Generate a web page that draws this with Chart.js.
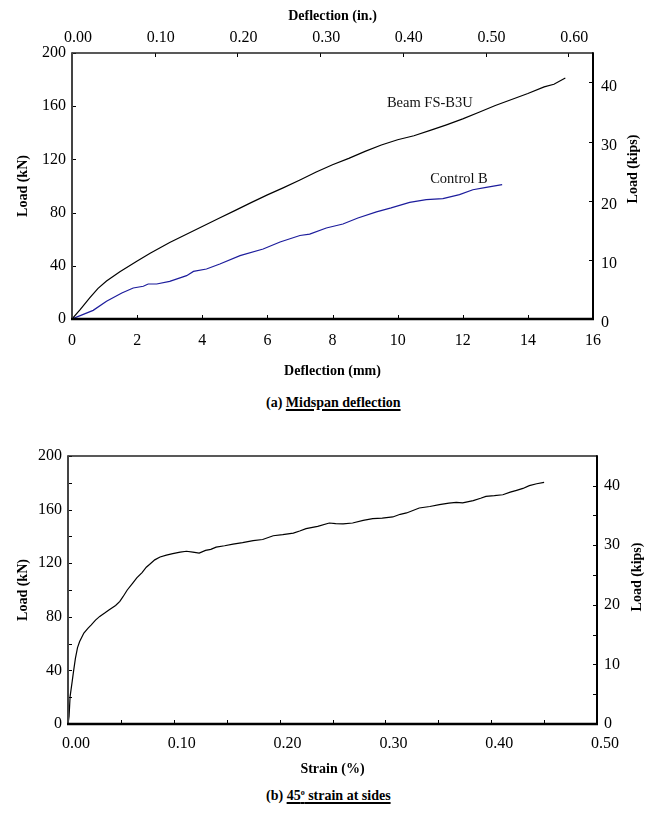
<!DOCTYPE html>
<html>
<head>
<meta charset="utf-8">
<script src="https://cdn.jsdelivr.net/npm/chart.js@4.4.0/dist/chart.umd.min.js"></script>
<style>
  body { margin: 0; background: #fff; }
  #wrap { position: relative; width: 655px; height: 814px; font-family: 'Liberation Serif', serif; }
  canvas { position: absolute; left: 0; }
  #c1 { top: 0; }
  #c2 { top: 420px; }
  .cap { position: absolute; left: 266px; font: bold 14px 'Liberation Serif', serif; line-height: 16px; white-space: nowrap; }
  .cap u { text-decoration-thickness: 1.5px; text-underline-offset: 2px; }
  .cap sup { font-size: 8px; vertical-align: 5px; line-height: 0; }
</style>
</head>
<body>
<div id="wrap">
  <canvas id="c1" width="655" height="384"></canvas>
  <canvas id="c2" width="655" height="362"></canvas>
  <div class="cap" style="top:395px">(a) <u>Midspan deflection</u></div>
  <div class="cap" style="top:788px">(b) <u>45<sup>o</sup> strain at sides</u></div>
</div>
<script>
// (a) load vs midspan deflection, mm / kN
const beamDefl = [0, 0.25, 0.55, 0.8, 1.06, 1.47, 1.99, 2.4, 3.0, 3.5, 4.0, 4.5, 5.0, 5.5, 6.0, 6.5, 7.0,
  7.5, 8.0, 8.5, 9.0, 9.5, 10.0, 10.5, 11.0, 11.5, 12.0, 12.5, 13.0, 13.5, 14.0, 14.5, 14.8, 15.15];
const beamLoad = [0, 7, 16, 23, 28.5, 35.5, 43.5, 49.5, 57.5, 63.5, 69.5, 75.5, 81.5, 87.5, 93.3, 98.8, 104.5,
  110.5, 116, 120.8, 126, 130.8, 134.8, 137.8, 141.8, 146, 150.5, 155.5, 160.5, 165, 169.5, 174.5, 176.5, 181.2];

const ctrlDefl = [0, 0.65, 1.06, 1.53, 1.88, 2.19, 2.34, 2.6, 3.0, 3.52, 3.73, 4.13, 4.54, 5.16, 5.87,
  6.39, 7.0, 7.3, 7.81, 8.32, 8.78, 9.35, 9.8, 10.37, 10.88, 11.39, 11.9, 12.31, 12.72, 13.21];
const ctrlLoad = [0, 6.5, 13.3, 19.5, 23.3, 24.6, 26.3, 26.3, 28.3, 32.6, 35.8, 37.6, 41.4, 47.6, 52.6,
  57.9, 62.8, 63.8, 68.4, 71.4, 75.9, 80.5, 83.5, 87.7, 89.7, 90.5, 93.5, 97.2, 99, 101];

// (b) load vs 45 deg strain, % / kN
const strainVals = [0, 0.001, 0.002, 0.004, 0.005, 0.007, 0.009, 0.011, 0.015, 0.019, 0.022, 0.026, 0.030,
  0.035, 0.039, 0.045, 0.049, 0.052, 0.056, 0.061, 0.065, 0.070, 0.074, 0.077, 0.082, 0.087, 0.093, 0.099,
  0.106, 0.112, 0.118, 0.124, 0.130, 0.135, 0.140, 0.148, 0.156, 0.165, 0.175, 0.184, 0.194, 0.203, 0.213,
  0.219, 0.225, 0.236, 0.247, 0.253, 0.26, 0.269, 0.279, 0.288, 0.297, 0.307, 0.314, 0.32, 0.332, 0.342,
  0.351, 0.36, 0.367, 0.373, 0.383, 0.39, 0.395, 0.403, 0.411, 0.418, 0.424, 0.43, 0.436, 0.443, 0.45];
const strainLoad = [0, 5.7, 20.6, 32, 38, 49, 57, 61.5, 67.9, 71.5, 74, 77.5, 80.3,
  83, 85.3, 88.5, 91.5, 95, 100, 105, 109, 113, 117, 119, 122.5, 124.6, 126, 127.1,
  128.2, 128.9, 128.2, 127.6, 129.6, 130.3, 132, 133, 134.3, 135.3, 136.8, 137.7, 140.5, 141.3, 142.5,
  144, 145.8, 147.5, 150, 149.5, 149.3, 150, 152, 153.2, 153.7, 154.5, 156.5, 157.5, 161.2, 162.3,
  163.7, 164.8, 165.4, 165, 166.7, 168.5, 169.9, 170.4, 171.1, 173, 174.4, 175.8, 177.9, 179.3, 180.3];

const curveLabels = [
  { text: 'Beam FS-B3U', x: 9.67, y: 162.6 },
  { text: 'Control B', x: 11.0, y: 105.3 }
];

const KN_PER_KIP = 4.448;
const MM_PER_IN = 25.4;

const pts = (xs, ys) => xs.map((x, i) => ({ x, y: ys[i] }));
const SERIF = "'Liberation Serif', serif";
const tickFont = { family: SERIF, size: 16 };
const titleFont = { family: SERIF, size: 14, weight: 'bold' };
const noGrid = { display: false, drawTicks: false };
const noBorder = { display: false };

// frame, inward tick marks, right-hand title and curve labels
const frame = {
  id: 'frame',
  afterDraw(chart, args, opts) {
    const { ctx, chartArea: a } = chart;
    ctx.save();
    ctx.strokeStyle = '#000';
    ctx.lineWidth = 1;
    const L = 4;
    Object.values(chart.scales).forEach(s => {
      const pos = s.options.position;
      s.ticks.forEach(t => {
        const p = Math.round(s.getPixelForValue(t.value)) + 0.5;
        ctx.beginPath();
        if (pos === 'bottom') { ctx.moveTo(p, a.bottom); ctx.lineTo(p, a.bottom - L); }
        if (pos === 'top') { ctx.moveTo(p, a.top); ctx.lineTo(p, a.top + L); }
        if (pos === 'left') { ctx.moveTo(a.left, p); ctx.lineTo(a.left + L, p); }
        if (pos === 'right') { ctx.moveTo(a.right, p); ctx.lineTo(a.right - L, p); }
        ctx.stroke();
      });
    });
    const side = (w, c, x1, y1, x2, y2) => {
      ctx.lineWidth = w; ctx.strokeStyle = c;
      ctx.beginPath(); ctx.moveTo(x1, y1); ctx.lineTo(x2, y2); ctx.stroke();
    };
    side(1.5, '#222', a.left, a.top, a.right, a.top);
    side(2, '#000', a.right, a.top - 0.75, a.right, a.bottom);
    side(2, '#444', a.left, a.top - 0.75, a.left, a.bottom);
    side(2.5, '#000', a.left - 1, a.bottom, a.right + 1, a.bottom);

    if (opts.rightTitle) {
      ctx.save();
      ctx.translate(a.right + opts.rightDx, (a.top + a.bottom) / 2 + opts.rightDy);
      ctx.rotate(-Math.PI / 2);
      ctx.font = `bold 14px ${SERIF}`;
      ctx.fillStyle = '#000';
      ctx.textAlign = 'center';
      ctx.textBaseline = 'middle';
      ctx.fillText(opts.rightTitle, 0, 0);
      ctx.restore();
    }
    (opts.labels || []).forEach(l => {
      ctx.font = `14.5px ${SERIF}`;
      ctx.fillStyle = '#111';
      ctx.textAlign = 'left';
      ctx.textBaseline = 'middle';
      ctx.fillText(l.text, chart.scales.x.getPixelForValue(l.x), chart.scales.y.getPixelForValue(l.y));
    });
    ctx.restore();
  }
};

const base = {
  responsive: false,
  animation: false,
  events: [],
  elements: { point: { radius: 0 }, line: { borderWidth: 1.2, tension: 0 } },
  plugins: { legend: { display: false }, tooltip: { enabled: false } }
};

new Chart(document.getElementById('c1'), {
  type: 'line',
  data: {
    datasets: [
      { data: pts(beamDefl, beamLoad), borderColor: '#000' },
      { data: pts(ctrlDefl, ctrlLoad), borderColor: '#1c1c9c' }
    ]
  },
  options: {
    ...base,
    layout: { padding: 0 },
    plugins: { ...base.plugins, frame: { rightTitle: 'Load (kips)', rightDx: 40, rightDy: -17, labels: curveLabels } },
    scales: {
      x: {
        type: 'linear', position: 'bottom', min: 0, max: 16,
        grid: noGrid, border: noBorder,
        ticks: { stepSize: 2, font: tickFont, color: '#000', padding: 12, autoSkip: false, maxRotation: 0 },
        title: { display: true, text: 'Deflection (mm)', font: titleFont, color: '#000', padding: { top: 0, bottom: 4 } },
        afterFit: s => { s.height = 65; }
      },
      xin: {
        type: 'linear', position: 'top', min: 0, max: 16 / MM_PER_IN,
        grid: noGrid, border: noBorder,
        ticks: { stepSize: 0.1, includeBounds: false, font: tickFont, color: '#000', padding: 6, labelOffset: 6,
          autoSkip: false, maxRotation: 0, callback: v => v.toFixed(2) },
        title: { display: true, text: 'Deflection (in.)', font: titleFont, color: '#000', padding: { top: 8, bottom: 0 } },
        afterFit: s => { s.height = 53; }
      },
      y: {
        position: 'left', min: 0, max: 200,
        grid: noGrid, border: noBorder,
        ticks: { stepSize: 40, font: tickFont, color: '#000', padding: 6 },
        title: { display: true, text: 'Load (kN)', font: titleFont, color: '#000', padding: { top: 15, bottom: 0 } },
        afterFit: s => { s.width = 72; }
      },
      yk: {
        position: 'right', min: 0, max: 200 / KN_PER_KIP,
        grid: noGrid, border: noBorder,
        ticks: { stepSize: 10, includeBounds: false, font: tickFont, color: '#000', padding: 8, labelOffset: 4 },
        afterFit: s => { s.width = 62; }
      }
    }
  },
  plugins: [frame]
});

new Chart(document.getElementById('c2'), {
  type: 'line',
  data: {
    datasets: [{ data: pts(strainVals, strainLoad), borderColor: '#000' }]
  },
  options: {
    ...base,
    layout: { padding: { top: 36 } },
    plugins: { ...base.plugins, frame: { rightTitle: 'Load (kips)', rightDx: 40, rightDy: -13 } },
    scales: {
      x: {
        type: 'linear', position: 'bottom', min: 0, max: 0.5,
        grid: noGrid, border: noBorder,
        ticks: { stepSize: 0.05, font: tickFont, color: '#000', padding: 10, labelOffset: 8, autoSkip: false, maxRotation: 0,
          callback: v => (Math.round(v * 100) % 10 === 0 ? v.toFixed(2) : '') },
        title: { display: true, text: 'Strain (%)', font: titleFont, color: '#000', padding: { top: 0, bottom: 4 } },
        afterFit: s => { s.height = 58; }
      },
      y: {
        position: 'left', min: 0, max: 200,
        grid: noGrid, border: noBorder,
        ticks: { stepSize: 20, font: tickFont, color: '#000', padding: 6,
          callback: v => (v % 40 === 0 ? v : '') },
        title: { display: true, text: 'Load (kN)', font: titleFont, color: '#000', padding: { top: 15, bottom: 0 } },
        afterFit: s => { s.width = 68; }
      },
      yk: {
        position: 'right', min: 0, max: 200 / KN_PER_KIP,
        grid: noGrid, border: noBorder,
        ticks: { stepSize: 5, includeBounds: false, font: tickFont, color: '#000', padding: 7,
          callback: v => (v % 10 === 0 ? v : '') },
        afterFit: s => { s.width = 58; }
      }
    }
  },
  plugins: [frame]
});
</script>
</body>
</html>
